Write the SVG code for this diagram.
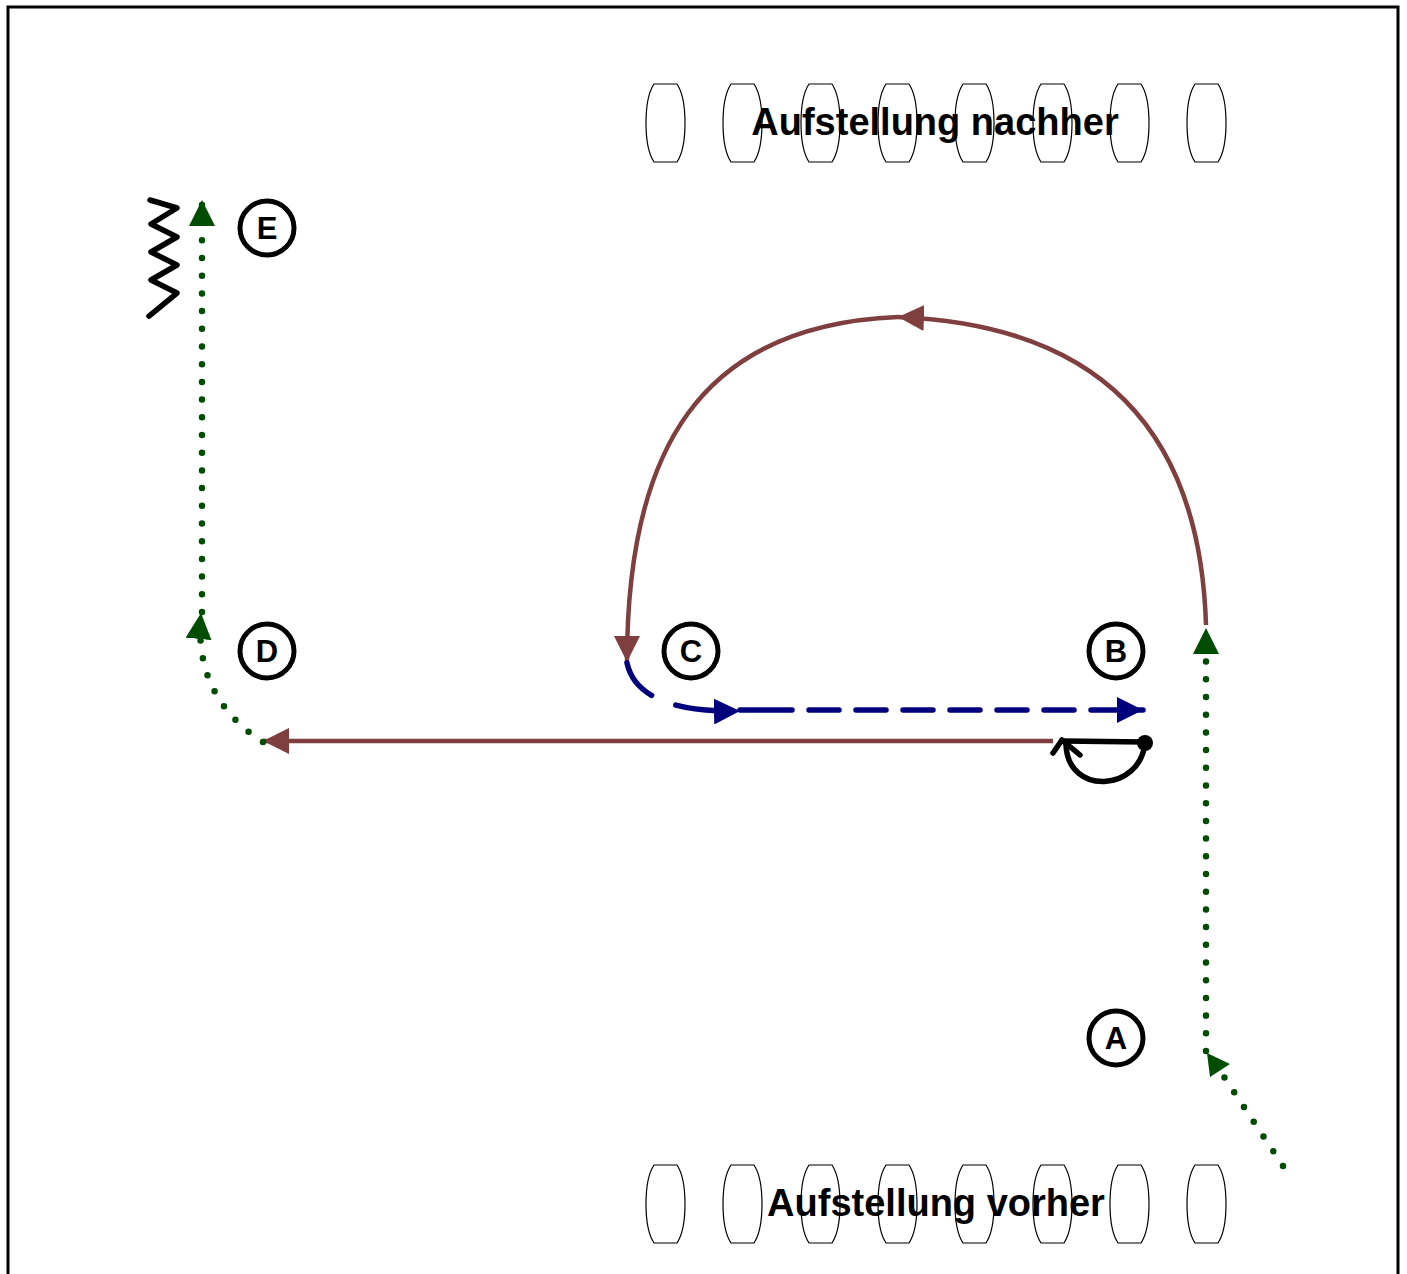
<svg xmlns="http://www.w3.org/2000/svg" width="1407" height="1274" viewBox="0 0 1407 1274">
<style>
.cone{fill:#fff;stroke:#000;stroke-width:1.2}
.lbl{font-family:"Liberation Sans",Arial,sans-serif;font-weight:bold;font-size:38px;text-anchor:middle;fill:#000}
.ring{fill:#fff;stroke:#000;stroke-width:5}
.let{font-family:"Liberation Sans",Arial,sans-serif;font-weight:bold;font-size:31px;text-anchor:middle;fill:#000}
.brown{fill:none;stroke:#7f3f3f;stroke-width:4.5}
.blue{fill:none;stroke:#00007f;stroke-width:5.5;stroke-linecap:round}
.dots{fill:none;stroke:#004c00;stroke-width:6.5;stroke-linecap:round;stroke-dasharray:0 17.7}
.blk{fill:none;stroke:#000;stroke-width:5.5;stroke-linecap:round;stroke-linejoin:round}
</style>
<defs>
<path id="cone" d="M8,0 L31,0 Q39,12 39,39 Q39,66 31,78 L8,78 Q0,66 0,39 Q0,12 8,0 Z"/>
<marker id="ab" markerUnits="userSpaceOnUse" markerWidth="26" markerHeight="26" refX="24" refY="12" orient="auto" viewBox="0 0 24 24"><path d="M0,0 L24,12 L0,24 Z" fill="#7f3f3f"/></marker>
<marker id="an" markerUnits="userSpaceOnUse" markerWidth="26" markerHeight="26" refX="24" refY="12" orient="auto" viewBox="0 0 24 24"><path d="M0,0 L24,12 L0,24 Z" fill="#00007f"/></marker>
<marker id="ag" markerUnits="userSpaceOnUse" markerWidth="26" markerHeight="26" refX="24" refY="12" orient="auto" viewBox="0 0 24 24"><path d="M0,0 L24,12 L0,24 Z" fill="#004c00"/></marker>
</defs>
<rect x="8" y="7" width="1390" height="1290" fill="#fff" stroke="#000" stroke-width="3"/>
<g id="cones-top">
<use href="#cone" class="cone" x="646" y="84"/>
<use href="#cone" class="cone" x="723" y="84"/>
<use href="#cone" class="cone" x="801" y="84"/>
<use href="#cone" class="cone" x="878" y="84"/>
<use href="#cone" class="cone" x="955" y="84"/>
<use href="#cone" class="cone" x="1033" y="84"/>
<use href="#cone" class="cone" x="1110" y="84"/>
<use href="#cone" class="cone" x="1187" y="84"/>
<text class="lbl" x="935" y="135">Aufstellung nachher</text>
</g>
<g id="cones-bottom">
<use href="#cone" class="cone" x="646" y="1165"/>
<use href="#cone" class="cone" x="723" y="1165"/>
<use href="#cone" class="cone" x="801" y="1165"/>
<use href="#cone" class="cone" x="878" y="1165"/>
<use href="#cone" class="cone" x="955" y="1165"/>
<use href="#cone" class="cone" x="1033" y="1165"/>
<use href="#cone" class="cone" x="1110" y="1165"/>
<use href="#cone" class="cone" x="1187" y="1165"/>
<text class="lbl" x="936" y="1216">Aufstellung vorher</text>
</g>
<g id="node-E"><circle class="ring" cx="267" cy="228" r="27"/><text class="let" x="267" y="239">E</text></g>
<g id="node-D"><circle class="ring" cx="267" cy="651" r="27"/><text class="let" x="267" y="662">D</text></g>
<g id="node-C"><circle class="ring" cx="691" cy="651" r="27"/><text class="let" x="691" y="662">C</text></g>
<g id="node-B"><circle class="ring" cx="1116" cy="651" r="27"/><text class="let" x="1116" y="662">B</text></g>
<g id="node-A"><circle class="ring" cx="1116" cy="1038" r="27"/><text class="let" x="1116" y="1049">A</text></g>
<g id="zigzag"><polyline class="blk" points="150,200 177,208 151,224 177,237 151,252 177,265 151,280 177,293 149,316"/></g>
<g id="connectors">
<path class="brown" d="M1206,625 C1200,430 1100,325 898,317" marker-end="url(#ab)"/>
<path class="brown" d="M898,317 C700,325 627,450 627,662" marker-end="url(#ab)"/>
<path class="brown" d="M1053,741 L263,741" marker-end="url(#ab)"/>
<path class="blue" d="M627,663 Q638,713 740,711" stroke-dasharray="42 26" marker-end="url(#an)"/>
<path class="blue" d="M740,710 L1143,710" stroke-dasharray="52 17 30 17 30 17 30 17 30 17 30 17 30 17 40 0" marker-end="url(#an)"/>
<path class="dots" d="M1283,1166 L1207,1051"/>
<polygon points="1207,1053 1230,1064 1210,1077" fill="#004c00"/>
<path class="dots" d="M1206,1051 L1206,628" marker-end="url(#ag)"/>
<path class="dots" d="M263,742 Q193,697 201,613" marker-end="url(#ag)"/>
<path class="dots" d="M202,612 L202,200" marker-end="url(#ag)"/>
<path class="blk" d="M1062,741 L1145,742"/>
<path class="blk" d="M1145,743 C1140,792 1068,796 1066,745"/>
<polyline class="blk" points="1053,753 1062,740 1080,755"/>
<circle cx="1145" cy="743" r="8" fill="#000"/>
</g>
</svg>
